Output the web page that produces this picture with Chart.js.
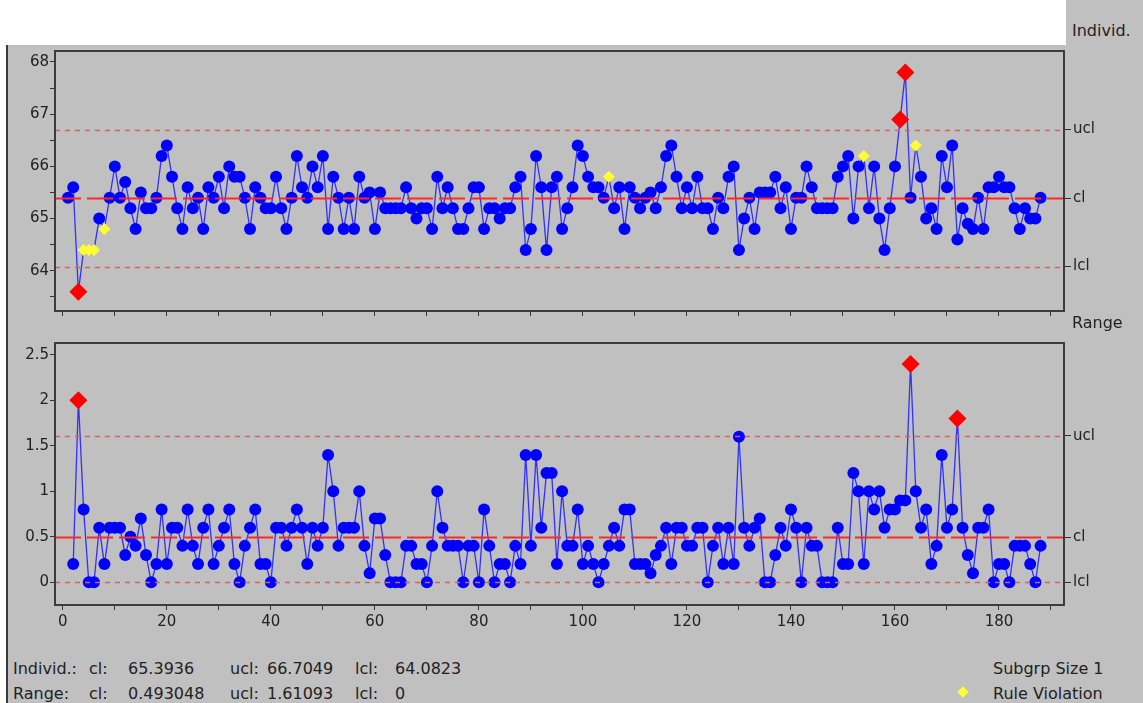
<!DOCTYPE html>
<html>
<head>
<meta charset="utf-8">
<title>Individuals and Moving Range</title>
<script src="https://cdn.jsdelivr.net/npm/chart.js@4.4.0/dist/chart.umd.min.js"></script>
<style>
  body { margin: 0; width: 1143px; height: 703px; background: #fff; position: relative; overflow: hidden;
         font-family: "DejaVu Sans", sans-serif; color: #222; }
  #panel { position: absolute; left: 6px; top: 45px; width: 1135px; height: 658px; background: #c0c0c0;
           border-left: 2px solid #3a3a3a; }
  #corner { position: absolute; left: 1066px; top: 0; width: 77px; height: 45px; background: #c0c0c0; }
  canvas { position: absolute; left: 0; }
  #indivChart { top: 45px; }
  #rangeChart { top: 330px; }
  .lbl { position: absolute; font-size: 16px; line-height: 16px; white-space: nowrap; }
  #ruleMark { position: absolute; left: 959px; top: 688px; width: 8px; height: 8px; background: #ffff33;
              transform: rotate(45deg); }
</style>
</head>
<body>
<div id="panel"></div>
<div id="corner"></div>
<canvas id="indivChart" width="1143" height="285"></canvas>
<canvas id="rangeChart" width="1143" height="310"></canvas>

<div class="lbl" style="left:1072px; top:23px;">Individ.</div>
<div class="lbl" style="left:1072px; top:315px;">Range</div>

<div class="lbl" style="left:13px; top:661px;">Individ.:</div>
<div class="lbl" style="left:89px; top:661px;">cl:</div>
<div class="lbl" style="left:128px; top:661px;">65.3936</div>
<div class="lbl" style="left:230px; top:661px;">ucl:</div>
<div class="lbl" style="left:267px; top:661px;">66.7049</div>
<div class="lbl" style="left:355px; top:661px;">lcl:</div>
<div class="lbl" style="left:395px; top:661px;">64.0823</div>

<div class="lbl" style="left:13px; top:686px;">Range:</div>
<div class="lbl" style="left:89px; top:686px;">cl:</div>
<div class="lbl" style="left:128px; top:686px;">0.493048</div>
<div class="lbl" style="left:230px; top:686px;">ucl:</div>
<div class="lbl" style="left:267px; top:686px;">1.61093</div>
<div class="lbl" style="left:355px; top:686px;">lcl:</div>
<div class="lbl" style="left:395px; top:686px;">0</div>

<div class="lbl" style="left:993px; top:661px;">Subgrp Size 1</div>
<div id="ruleMark"></div>
<div class="lbl" style="left:993px; top:686px;">Rule Violation</div>

<script>
// individual measurements, subgroups 1..188
const indivValues = [
  65.4, 65.6, 63.6, 64.4, 64.4, 64.4, 65.0, 64.8, 65.4, 66.0,
  65.4, 65.7, 65.2, 64.8, 65.5, 65.2, 65.2, 65.4, 66.2, 66.4,
  65.8, 65.2, 64.8, 65.6, 65.2, 65.4, 64.8, 65.6, 65.4, 65.8,
  65.2, 66.0, 65.8, 65.8, 65.4, 64.8, 65.6, 65.4, 65.2, 65.2,
  65.8, 65.2, 64.8, 65.4, 66.2, 65.6, 65.4, 66.0, 65.6, 66.2,
  64.8, 65.8, 65.4, 64.8, 65.4, 64.8, 65.8, 65.4, 65.5, 64.8,
  65.5, 65.2, 65.2, 65.2, 65.2, 65.6, 65.2, 65.0, 65.2, 65.2,
  64.8, 65.8, 65.2, 65.6, 65.2, 64.8, 64.8, 65.2, 65.6, 65.6,
  64.8, 65.2, 65.2, 65.0, 65.2, 65.2, 65.6, 65.8, 64.4, 64.8,
  66.2, 65.6, 64.4, 65.6, 65.8, 64.8, 65.2, 65.6, 66.4, 66.2,
  65.8, 65.6, 65.6, 65.4, 65.8, 65.2, 65.6, 64.8, 65.6, 65.4,
  65.2, 65.4, 65.5, 65.2, 65.6, 66.2, 66.4, 65.8, 65.2, 65.6,
  65.2, 65.8, 65.2, 65.2, 64.8, 65.4, 65.2, 65.8, 66.0, 64.4,
  65.0, 65.4, 64.8, 65.5, 65.5, 65.5, 65.8, 65.2, 65.6, 64.8,
  65.4, 65.4, 66.0, 65.6, 65.2, 65.2, 65.2, 65.2, 65.8, 66.0,
  66.2, 65.0, 66.0, 66.2, 65.2, 66.0, 65.0, 64.4, 65.2, 66.0,
  66.9, 67.8, 65.4, 66.4, 65.8, 65.0, 65.2, 64.8, 66.2, 65.6,
  66.4, 64.6, 65.2, 64.9, 64.8, 65.4, 64.8, 65.6, 65.6, 65.8,
  65.6, 65.6, 65.2, 64.8, 65.2, 65.0, 65.0, 65.4
];

// moving ranges, subgroups 2..188
const rangeValues = [
       0.2, 2.0, 0.8, 0.0, 0.0, 0.6, 0.2, 0.6, 0.6,
  0.6, 0.3, 0.5, 0.4, 0.7, 0.3, 0.0, 0.2, 0.8, 0.2,
  0.6, 0.6, 0.4, 0.8, 0.4, 0.2, 0.6, 0.8, 0.2, 0.4,
  0.6, 0.8, 0.2, 0.0, 0.4, 0.6, 0.8, 0.2, 0.2, 0.0,
  0.6, 0.6, 0.4, 0.6, 0.8, 0.6, 0.2, 0.6, 0.4, 0.6,
  1.4, 1.0, 0.4, 0.6, 0.6, 0.6, 1.0, 0.4, 0.1, 0.7,
  0.7, 0.3, 0.0, 0.0, 0.0, 0.4, 0.4, 0.2, 0.2, 0.0,
  0.4, 1.0, 0.6, 0.4, 0.4, 0.4, 0.0, 0.4, 0.4, 0.0,
  0.8, 0.4, 0.0, 0.2, 0.2, 0.0, 0.4, 0.2, 1.4, 0.4,
  1.4, 0.6, 1.2, 1.2, 0.2, 1.0, 0.4, 0.4, 0.8, 0.2,
  0.4, 0.2, 0.0, 0.2, 0.4, 0.6, 0.4, 0.8, 0.8, 0.2,
  0.2, 0.2, 0.1, 0.3, 0.4, 0.6, 0.2, 0.6, 0.6, 0.4,
  0.4, 0.6, 0.6, 0.0, 0.4, 0.6, 0.2, 0.6, 0.2, 1.6,
  0.6, 0.4, 0.6, 0.7, 0.0, 0.0, 0.3, 0.6, 0.4, 0.8,
  0.6, 0.0, 0.6, 0.4, 0.4, 0.0, 0.0, 0.0, 0.6, 0.2,
  0.2, 1.2, 1.0, 0.2, 1.0, 0.8, 1.0, 0.6, 0.8, 0.8,
  0.9, 0.9, 2.4, 1.0, 0.6, 0.8, 0.2, 0.4, 1.4, 0.6,
  0.8, 1.8, 0.6, 0.3, 0.1, 0.6, 0.6, 0.8, 0.0, 0.2,
  0.2, 0.0, 0.4, 0.4, 0.4, 0.2, 0.0, 0.4
];

// flagged subgroups
const indivOutOfLimit = [3, 161, 162];
const indivRuleViolation = [4, 5, 6, 8, 105, 154, 164];
const rangeOutOfLimit = [3, 163, 172];

// control limits: lcl, cl, ucl
const limitNames = ['lcl', 'cl', 'ucl'];
const indivLimits = [64.0823, 65.3936, 66.7049];
const rangeLimits = [0, 0.493048, 1.61093];

// axis ticks
const xTickValues = [0, 10, 20, 30, 40, 50, 60, 70, 80, 90, 100, 110, 120, 130, 140, 150, 160, 170, 180, 190];
const indivTickValues = [63.5, 64, 64.5, 65, 65.5, 66, 66.5, 67, 67.5, 68];
const rangeTickValues = [0, 0.5, 1, 1.5, 2, 2.5];

Chart.defaults.font.family = '"DejaVu Sans", sans-serif';
Chart.defaults.font.size = 15;
Chart.defaults.color = '#222';

// limit lines drawn over the series, then the plot frame
const controlFrame = {
  id: 'controlFrame',
  afterDatasetsDraw(chart, args, opts) {
    const { ctx, chartArea: a } = chart;
    const y = chart.scales.y;
    ctx.save();
    opts.limits.forEach((v, i) => {
      const py = Math.round(y.getPixelForValue(v)) + 0.5;
      ctx.beginPath();
      if (i === 1) {
        ctx.strokeStyle = '#ff2626';
        ctx.lineWidth = 2;
        ctx.setLineDash([26, 6]);
      } else {
        ctx.strokeStyle = '#e65a5a';
        ctx.lineWidth = 1.5;
        ctx.setLineDash([5, 5]);
      }
      ctx.moveTo(a.left, py);
      ctx.lineTo(a.right, py);
      ctx.stroke();
    });
    ctx.setLineDash([]);
    ctx.strokeStyle = '#3c3c3c';
    ctx.lineWidth = 2;
    ctx.strokeRect(a.left, a.top, a.right - a.left, a.bottom - a.top);
    ctx.restore();
  }
};

// keep the plot box where the layout puts it, no room reserved for edge labels
function noEdgePadding(s) {
  s.paddingTop = 0;
  s.paddingBottom = 0;
  s.paddingLeft = 0;
  s.paddingRight = 0;
}

function buildChart(canvasId, cfg) {
  const outSet = new Set(cfg.outOfLimit);
  const ruleSet = new Set(cfg.rule);
  const kind = c => {
    const x = c.raw ? c.raw.x : null;
    return outSet.has(x) ? 'out' : ruleSet.has(x) ? 'rule' : 'ok';
  };
  const tickGrid = { drawOnChartArea: false, drawTicks: true, tickLength: 5, color: '#333', lineWidth: 1 };

  return new Chart(document.getElementById(canvasId), {
    type: 'line',
    data: {
      datasets: [{
        data: cfg.points,
        borderColor: '#3030ff',
        borderWidth: 1.3,
        tension: 0,
        pointStyle: c => kind(c) === 'ok' ? 'circle' : 'rectRot',
        pointRadius: c => ({ out: 9, rule: 6, ok: 6 })[kind(c)],
        pointBackgroundColor: c => ({ out: '#ff0000', rule: '#ffff33', ok: '#0000ff' })[kind(c)],
        pointBorderWidth: 0,
        clip: false
      }]
    },
    options: {
      responsive: false,
      animation: false,
      events: [],
      layout: { padding: { top: cfg.padTop, left: 0, right: 0, bottom: 0 } },
      plugins: {
        legend: { display: false },
        tooltip: { enabled: false },
        controlFrame: { limits: cfg.limits }
      },
      scales: {
        x: {
          type: 'linear',
          min: -1.5,
          max: 192.5,
          afterBuildTicks: s => { s.ticks = xTickValues.map(v => ({ value: v })); },
          afterFit: s => { s.height = cfg.xHeight; noEdgePadding(s); },
          ticks: {
            autoSkip: false,
            maxRotation: 0,
            padding: 3,
            callback: v => (cfg.xLabels && v % 20 === 0) ? String(v) : ''
          },
          grid: tickGrid,
          border: { display: false }
        },
        y: {
          position: 'left',
          min: cfg.yMin,
          max: cfg.yMax,
          afterBuildTicks: s => { s.ticks = cfg.yTicks.map(v => ({ value: v })); },
          afterFit: s => { s.width = 55; noEdgePadding(s); },
          ticks: { padding: 1, callback: cfg.yLabel },
          grid: tickGrid,
          border: { display: false }
        },
        y2: {
          position: 'right',
          min: cfg.yMin,
          max: cfg.yMax,
          afterBuildTicks: s => { s.ticks = cfg.limits.map(v => ({ value: v })); },
          afterFit: s => { s.width = 79; noEdgePadding(s); },
          ticks: { padding: 2, callback: (v, i) => limitNames[i] },
          grid: { drawOnChartArea: false, drawTicks: true, tickLength: 7, color: '#333' },
          border: { display: false }
        }
      }
    },
    plugins: [controlFrame]
  });
}

buildChart('indivChart', {
  points: indivValues.map((v, i) => ({ x: i + 1, y: v })),
  outOfLimit: indivOutOfLimit,
  rule: indivRuleViolation,
  limits: indivLimits,
  yMin: 63.23,
  yMax: 68.21,
  yTicks: indivTickValues,
  yLabel: v => Number.isInteger(v) ? String(v) : '',
  padTop: 5,
  xHeight: 19,
  xLabels: false
});

buildChart('rangeChart', {
  points: rangeValues.map((v, i) => ({ x: i + 2, y: v })),
  outOfLimit: rangeOutOfLimit,
  rule: [],
  limits: rangeLimits,
  yMin: -0.25,
  yMax: 2.63,
  yTicks: rangeTickValues,
  yLabel: v => String(v),
  padTop: 13,
  xHeight: 35,
  xLabels: true
});
</script>
</body>
</html>
